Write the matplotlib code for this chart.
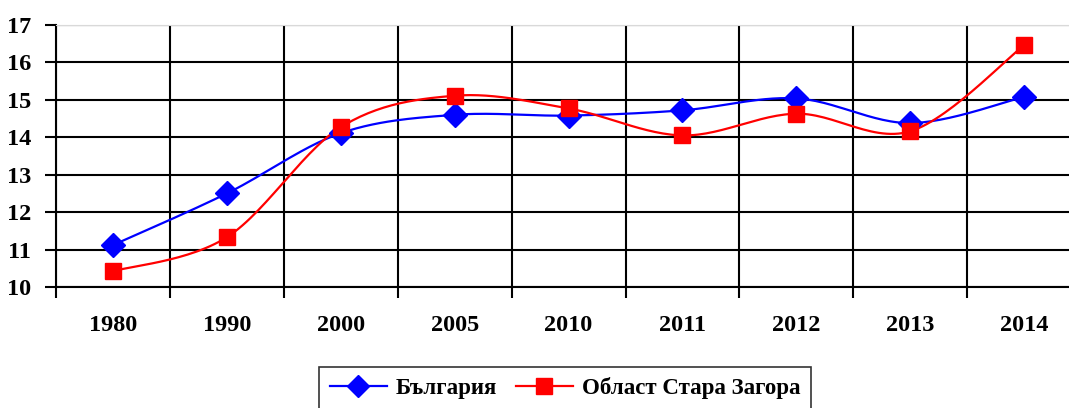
import numpy as np
import matplotlib
matplotlib.use("Agg")
import matplotlib.pyplot as plt
from matplotlib.ticker import FixedLocator

# -------------------------------
# Data
# -------------------------------
years = ["1980", "1990", "2000", "2005", "2010", "2011", "2012", "2013", "2014"]
bulgaria = [11.12, 12.50, 14.11, 14.60, 14.58, 14.72, 15.04, 14.38, 15.08]
stara_zagora = [10.42, 11.33, 14.27, 15.11, 14.77, 14.05, 14.63, 14.16, 16.46]


def smooth(xs, ys, n=30):
    # Excel-style smoothed line: cubic Bezier with Catmull-Rom control points
    xs = np.asarray(xs, float)
    ys = np.asarray(ys, float)
    px = np.concatenate([[xs[0]], xs, [xs[-1]]])
    py = np.concatenate([[ys[0]], ys, [ys[-1]]])
    outx, outy = [], []
    t = np.linspace(0, 1, n)
    for i in range(1, len(px) - 2):
        p0x, p1x, p2x, p3x = px[i - 1], px[i], px[i + 1], px[i + 2]
        p0y, p1y, p2y, p3y = py[i - 1], py[i], py[i + 1], py[i + 2]
        c1x = p1x + (p2x - p0x) / 6
        c1y = p1y + (p2y - p0y) / 6
        c2x = p2x - (p3x - p1x) / 6
        c2y = p2y - (p3y - p1y) / 6
        bx = (1 - t) ** 3 * p1x + 3 * (1 - t) ** 2 * t * c1x + 3 * (1 - t) * t ** 2 * c2x + t ** 3 * p2x
        by = (1 - t) ** 3 * p1y + 3 * (1 - t) ** 2 * t * c1y + 3 * (1 - t) * t ** 2 * c2y + t ** 3 * p2y
        outx.extend(bx)
        outy.extend(by)
    return np.array(outx), np.array(outy)


plt.rcParams["font.family"] = ["Liberation Serif", "DejaVu Serif"]
plt.rcParams["font.weight"] = "bold"

fig = plt.figure(figsize=(10.69, 4.08), dpi=100)
ax = fig.add_axes([56 / 1069, 1 - 287 / 408, 9 * 113.9 / 1069, 262 / 408])

x = np.arange(len(years))

bx, by = smooth(x, bulgaria)
ax.plot(bx, by, color="#0000FF", lw=1.6, zorder=3)
ax.plot(x, bulgaria, ls="none", marker="D", color="#0000FF", ms=12, zorder=4)

rx, ry = smooth(x, stara_zagora)
ax.plot(rx, ry, color="#FF0000", lw=1.6, zorder=3)
ax.plot(x, stara_zagora, ls="none", marker="s", color="#FF0000", ms=12, zorder=4)

# legend proxies
h1, = ax.plot([], [], color="#0000FF", lw=1.6, marker="D", ms=11)
h2, = ax.plot([], [], color="#FF0000", lw=1.6, marker="s", ms=11)

ax.set_xlim(-0.5, len(years) - 0.5)
ax.set_ylim(10, 17)
ax.set_yticks(range(10, 18))

ax.set_xticks(x)
ax.set_xticklabels(years, fontsize=17.5, fontweight="bold")
ax.xaxis.set_minor_locator(FixedLocator(np.arange(-0.5, len(years), 1.0)))
ax.tick_params(axis="x", which="major", length=0, pad=20)
ax.tick_params(axis="x", which="minor", length=8, width=1.5, color="black", direction="out")
ax.tick_params(axis="y", length=8, width=1.5, direction="out", pad=10, labelsize=17.5)
for lab in ax.get_yticklabels():
    lab.set_fontweight("bold")

ax.grid(True, axis="y", which="major", color="black", lw=1.5)
ax.grid(True, axis="x", which="minor", color="black", lw=1.5)
ax.set_axisbelow(True)

ax.spines["left"].set_linewidth(1.5)
ax.spines["bottom"].set_linewidth(1.5)
ax.spines["top"].set_color("#d9d9d9")
ax.spines["right"].set_visible(False)

leg = fig.legend([h1, h2], ["България", "Област Стара Загора"],
                 loc="upper center", bbox_to_anchor=(565 / 1069, 1 - 367 / 408),
                 ncol=2, frameon=True, fancybox=False, fontsize=16.5,
                 handlelength=2.5, columnspacing=0.8, handletextpad=0.4,
                 borderpad=0.45, borderaxespad=0)
leg.get_frame().set_edgecolor("black")
leg.get_frame().set_linewidth(1.2)
for t in leg.get_texts():
    t.set_fontweight("bold")

plt.savefig("out.png", dpi=100)
plt.close()
